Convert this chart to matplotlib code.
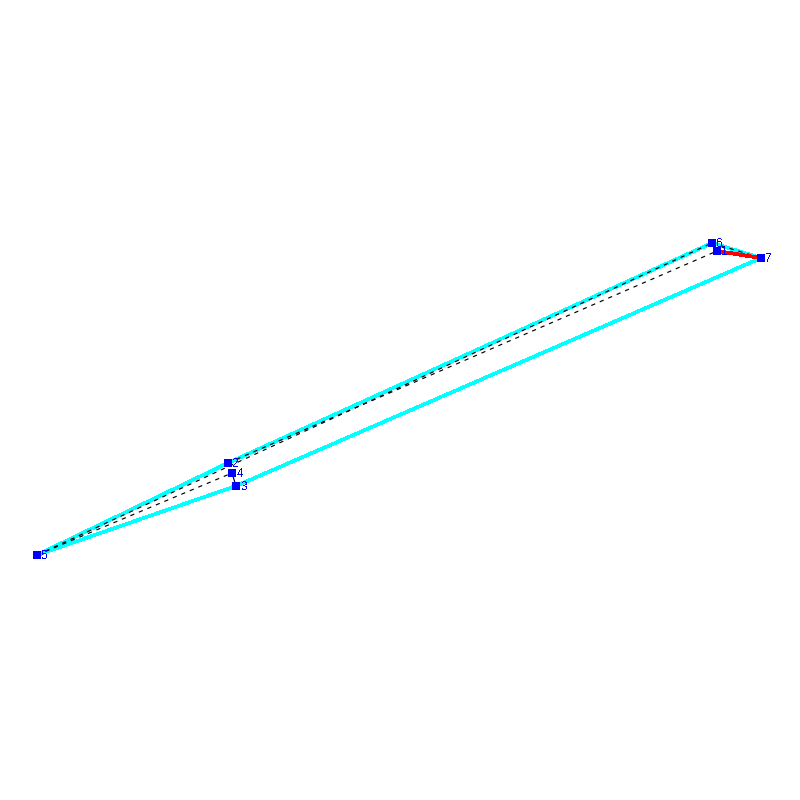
import matplotlib
matplotlib.use("Agg")
import matplotlib.pyplot as plt

node_ids = [1, 2, 3, 4, 5, 6, 7]
node_x = [717, 228, 236, 232, 37, 712, 761]
node_y = [251, 463, 486, 473, 555, 243, 258]

cyan_path = [5, 2, 6, 7, 3, 5]
red_edges = [(1, 7)]
dashed_edges = [(5, 6), (5, 4), (2, 1), (6, 7)]
thin_edges = [(4, 3)]

pos = {n: (x, y) for n, x, y in zip(node_ids, node_x, node_y)}

fig = plt.figure(figsize=(8, 8), dpi=100)
ax = fig.add_axes([0, 0, 1, 1])
ax.set_xlim(0, 800)
ax.set_ylim(800, 0)
ax.axis("off")

ax.plot([pos[n][0] for n in cyan_path], [pos[n][1] for n in cyan_path],
        color="#00ffff", lw=1.9, zorder=1, antialiased=False)
for a, b in dashed_edges:
    ax.plot([pos[a][0], pos[b][0]], [pos[a][1], pos[b][1]], color="black",
            lw=0.85, dashes=(3.6, 4.2), zorder=2)
for a, b in thin_edges:
    ax.plot([pos[a][0], pos[b][0]], [pos[a][1], pos[b][1]], color="black", lw=0.85,
            zorder=2)
for a, b in red_edges:
    ax.plot([pos[a][0], pos[b][0]], [pos[a][1], pos[b][1]], color="red", lw=2.0,
            zorder=3, antialiased=False)

ax.scatter(node_x, node_y, marker="s", s=32, color="blue", linewidths=0, zorder=4)
for n, x, y in zip(node_ids, node_x, node_y):
    ax.text(x + 4.5, y + 1, str(n), color="blue", fontsize=8.5, family="Liberation Sans",
            ha="left", va="center", zorder=5, antialiased=False)

fig.savefig("out.png", dpi=100, facecolor="white")
